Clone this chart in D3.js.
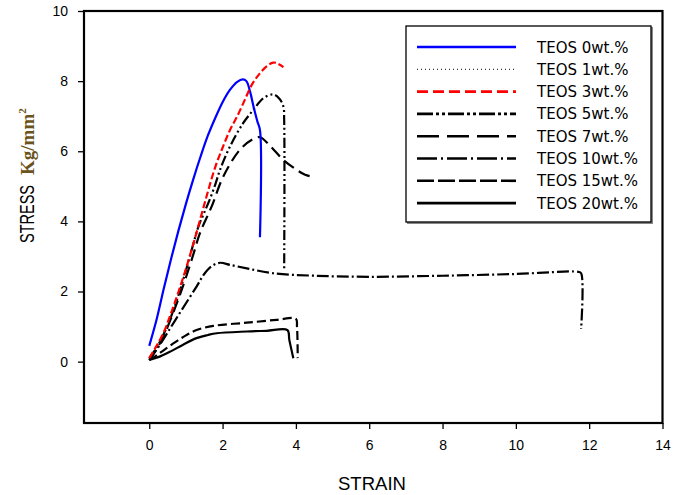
<!DOCTYPE html>
<html>
<head>
<meta charset="utf-8">
<script src="https://cdn.jsdelivr.net/npm/d3@7/dist/d3.min.js"></script>
<style>
  html, body { margin: 0; padding: 0; background: #fff; }
  svg { display: block; }
</style>
</head>
<body>
<svg id="chart" width="683" height="495"></svg>
<script>
// ---- Data ----
const seriesNames = ["TEOS 0wt.%", "TEOS 1wt.%", "TEOS 3wt.%", "TEOS 5wt.%", "TEOS 7wt.%", "TEOS 10wt.%", "TEOS 15wt.%", "TEOS 20wt.%"];
const xTicks = [0, 2, 4, 6, 8, 10, 12, 14];
const yTicks = [0, 2, 4, 6, 8, 10];

// [strain, stress]
const teos0 = [[0,0.45],[0.2,1.2],[0.4,2.1],[0.6,2.95],[0.8,3.75],[1.0,4.5],[1.2,5.2],[1.4,5.85],[1.6,6.45],[1.8,6.95],[2.0,7.4],[2.2,7.75],[2.4,7.98],[2.55,8.05],[2.65,8.0],[2.75,7.7],[2.85,7.25],[2.95,6.85],[3.02,6.6],[3.02,3.55]];
const teos1 = [];
const teos3 = [[0,0.1],[0.2,0.45],[0.4,0.85],[0.6,1.4],[0.8,2.0],[1.0,2.65],[1.2,3.35],[1.4,4.1],[1.6,4.85],[1.8,5.55],[2.0,6.1],[2.2,6.6],[2.4,7.0],[2.6,7.45],[2.8,7.9],[3.0,8.2],[3.2,8.42],[3.38,8.53],[3.5,8.5],[3.66,8.4]];
const teos5 = [[0,0.1],[0.2,0.4],[0.4,0.8],[0.6,1.3],[0.8,1.9],[1.0,2.6],[1.2,3.35],[1.34,3.85],[1.5,4.25],[1.66,4.65],[1.8,5.05],[1.93,5.47],[2.2,6.13],[2.56,6.8],[2.84,7.18],[3.11,7.51],[3.38,7.62],[3.55,7.5],[3.66,7.27],[3.68,6.9],[3.68,2.6]];
const teos7 = [[0,0.05],[0.2,0.35],[0.4,0.75],[0.6,1.25],[0.8,1.8],[1.0,2.4],[1.2,3.05],[1.38,3.66],[1.7,4.42],[2.02,5.28],[2.47,6.04],[2.8,6.33],[3.02,6.4],[3.3,6.15],[3.66,5.75],[4.02,5.47],[4.25,5.33],[4.43,5.28]];
const teos10 = [[0,0.05],[0.3,0.5],[0.6,1.0],[0.9,1.5],[1.29,2.14],[1.5,2.5],[1.7,2.72],[1.93,2.82],[2.2,2.76],[2.66,2.66],[3.38,2.52],[4.5,2.45],[6,2.42],[8,2.45],[10,2.5],[11.7,2.56],[11.78,2.52],[11.78,0.93]];
const teos15 = [[0,0.05],[0.2,0.18],[0.4,0.33],[0.7,0.55],[1.0,0.75],[1.29,0.9],[1.75,1.02],[2.66,1.11],[3.47,1.19],[4.0,1.22],[4.03,1.0],[4.05,0.1]];
const teos20 = [[0,0.05],[0.3,0.15],[0.6,0.3],[0.9,0.47],[1.29,0.67],[1.6,0.76],[1.84,0.81],[2.66,0.86],[3.2,0.88],[3.77,0.9],[3.82,0.62],[3.93,0.1]];

const seriesData = [teos0, teos1, teos3, teos5, teos7, teos10, teos15, teos20];

// ---- Styles ----
const styles = [
  {color: "#0000ff", width: 2.2, dash: null,               legendDash: null},
  {color: "#000000", width: 1,   dash: "1,3",              legendDash: "1,3"},
  {color: "#ff0000", width: 2.2, dash: "7,3",              legendDash: "11,5"},
  {color: "#000000", width: 2.2, dash: "10,3,2,3,2,3",     legendDash: "16,3,3,3,3,3"},
  {color: "#000000", width: 2.2, dash: "12,6",             legendDash: "22,8"},
  {color: "#000000", width: 2.2, dash: "12,3,2,3",         legendDash: "20,4,2,4"},
  {color: "#000000", width: 2.2, dash: "9,4",              legendDash: "17,4"},
  {color: "#000000", width: 2.2, dash: null,               legendDash: null}
];

const svg = d3.select("#chart");
const plotLeft = 84, plotRight = 662.5, plotTop = 11, plotBottom = 423;

const x = d3.scaleLinear().domain([-1.78, 14]).range([plotLeft, plotRight]);
const y = d3.scaleLinear().domain([-1.75, 10]).range([plotBottom, plotTop]);

// Axes
const xAxis = d3.axisBottom(x).tickValues(xTicks).tickSize(6).tickPadding(11).tickFormat(d3.format("d"));
const yAxis = d3.axisLeft(y).tickValues(yTicks).tickSize(6).tickPadding(10).tickFormat(d3.format("d"));

const gx = svg.append("g").attr("transform", `translate(0,${plotBottom})`).call(xAxis);
const gy = svg.append("g").attr("transform", `translate(${plotLeft},0)`).call(yAxis);
[gx, gy].forEach(g => {
  g.select(".domain").remove();
  g.selectAll(".tick line").attr("stroke", "#000").attr("stroke-width", 1.3);
  g.selectAll(".tick text").attr("fill", "#000")
    .style("font-family", "'Liberation Sans', Arial, sans-serif").style("font-size", "14px");
});

// Curves
const line = d3.line().curve(d3.curveCatmullRom.alpha(0.5)).x(d => x(d[0])).y(d => y(d[1]));
const order = [7, 6, 5, 4, 3, 1, 0, 2];
order.forEach(i => {
  if (!seriesData[i].length) return;
  const s = styles[i];
  svg.append("path")
    .datum(seriesData[i])
    .attr("d", line)
    .attr("fill", "none")
    .attr("stroke", s.color)
    .attr("stroke-width", s.width)
    .attr("stroke-linejoin", "round")
    .attr("stroke-dasharray", s.dash);
});

// Frame
svg.append("rect")
  .attr("x", plotLeft).attr("y", plotTop)
  .attr("width", plotRight - plotLeft).attr("height", plotBottom - plotTop)
  .attr("fill", "none").attr("stroke", "#000").attr("stroke-width", 2.2);

// Legend
const lg = svg.append("g");
lg.append("rect").attr("x", 407).attr("y", 27).attr("width", 246).attr("height", 197)
  .attr("fill", "#888").attr("stroke", "none");
lg.append("rect").attr("x", 406).attr("y", 26).attr("width", 245).attr("height", 196)
  .attr("fill", "#fff").attr("stroke", "#000").attr("stroke-width", 1.3);
seriesNames.forEach((name, i) => {
  const yy = 47 + i * 22.3;
  const s = styles[i];
  lg.append("line")
    .attr("x1", 417).attr("x2", 516).attr("y1", yy).attr("y2", yy)
    .attr("stroke", s.color)
    .attr("stroke-width", i === 1 ? 1 : 2.6)
    .attr("stroke-dasharray", s.legendDash);
  lg.append("text")
    .attr("x", 537).attr("y", yy + 5.5)
    .style("font-family", "'DejaVu Sans', Verdana, sans-serif")
    .style("font-size", "15px")
    .attr("fill", "#000")
    .text(name);
});

// Axis titles
svg.append("text")
  .attr("x", 372).attr("y", 490)
  .attr("text-anchor", "middle")
  .attr("textLength", 68).attr("lengthAdjust", "spacingAndGlyphs")
  .style("font-family", "'Liberation Sans', Arial, sans-serif")
  .style("font-size", "19px")
  .attr("fill", "#000")
  .text("STRAIN");

const yt = svg.append("g").attr("transform", "translate(34,214) rotate(-90)");
yt.append("text")
  .attr("x", 0).attr("y", 0)
  .attr("text-anchor", "middle")
  .attr("textLength", 58).attr("lengthAdjust", "spacingAndGlyphs")
  .style("font-family", "'Liberation Sans', Arial, sans-serif")
  .style("font-size", "20px")
  .attr("fill", "#000")
  .text("STRESS");
const unit = svg.append("g").attr("transform", "translate(34,175) rotate(-90)");
const ut = unit.append("text")
  .attr("x", 0).attr("y", 0)
  .attr("text-anchor", "start")
  .style("font-family", "'Liberation Serif', 'Times New Roman', serif")
  .style("font-weight", "bold")
  .style("font-size", "19px")
  .attr("fill", "#6b5320");
ut.append("tspan").text("Kg/mm");
ut.append("tspan").attr("dy", -8).style("font-size", "11px").text("2");
</script>
</body>
</html>
